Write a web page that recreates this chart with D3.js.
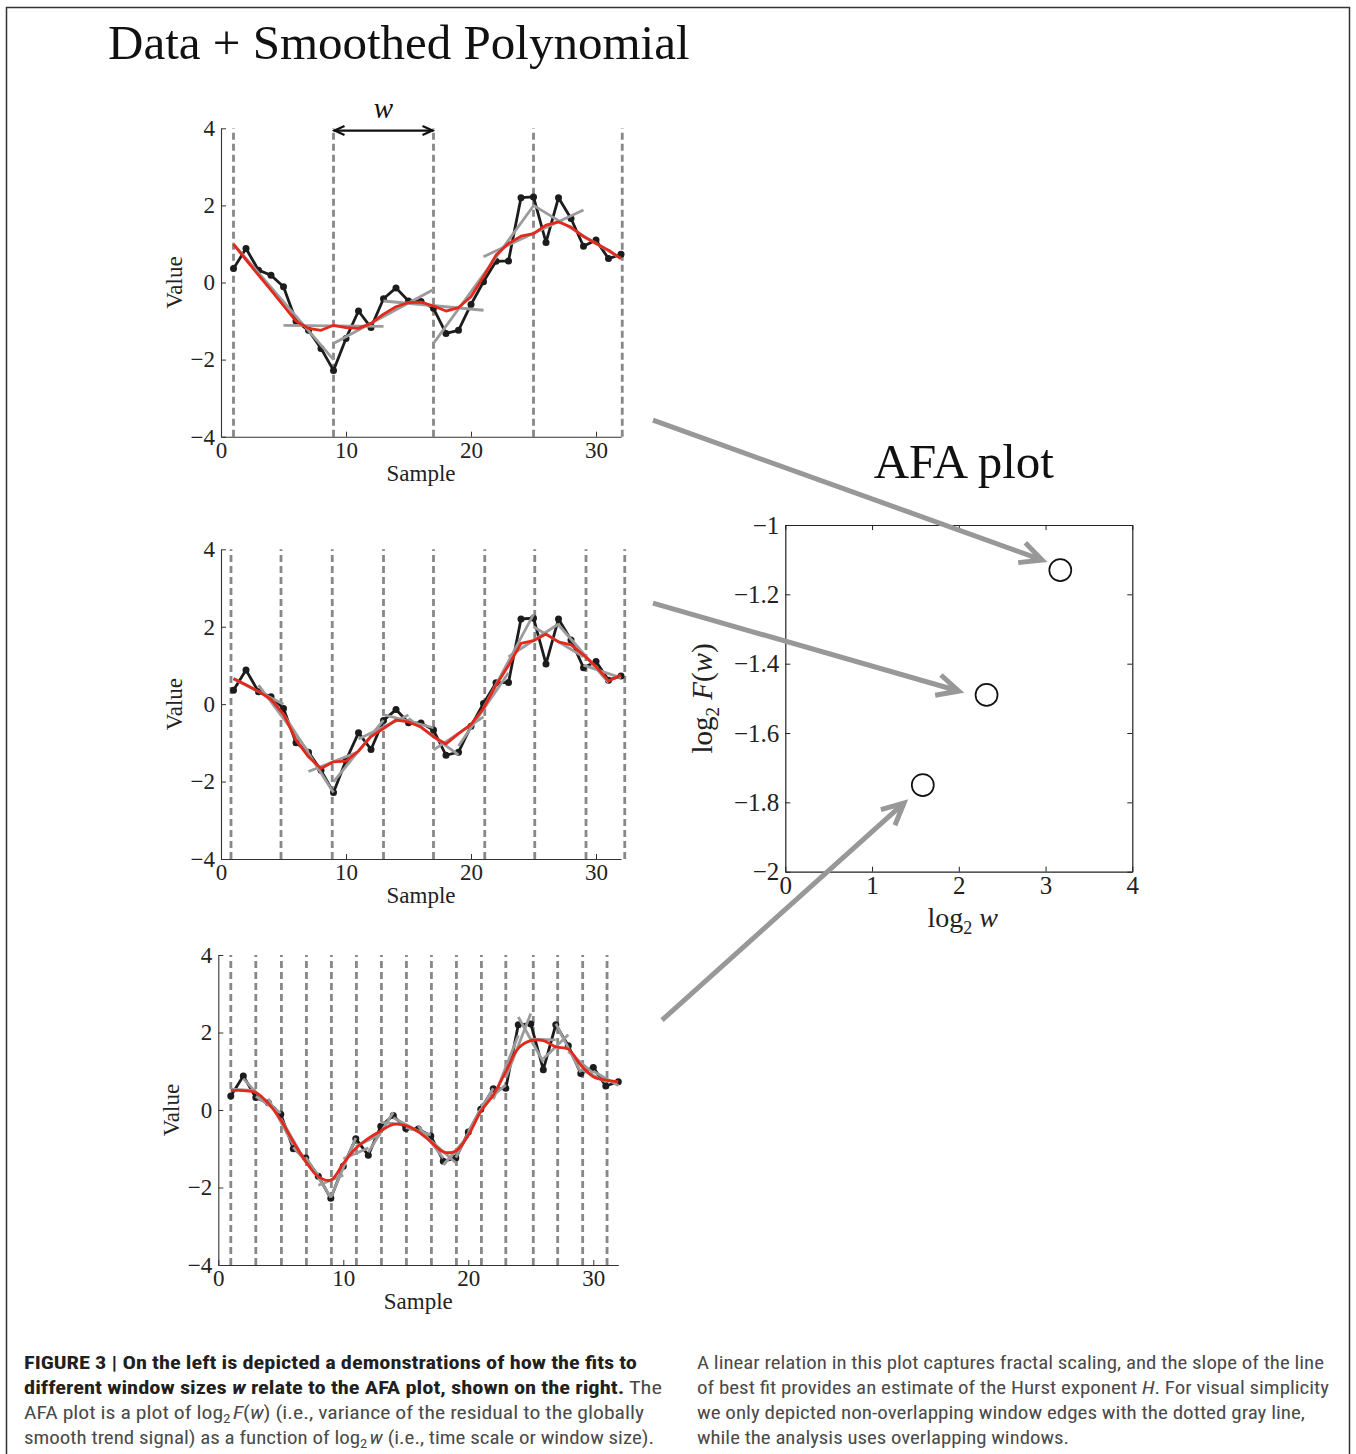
<!DOCTYPE html>
<html><head><meta charset="utf-8">
<script src="https://cdn.jsdelivr.net/npm/d3@7"></script>
<style>body{margin:0;background:#fff}svg{display:block}</style>
</head><body>
<svg id="fig" width="1356" height="1454"></svg>
<script>
// ---------- DATA ----------
const sampleIdx = [1,2,3,4,5,6,7,8,9,10,11,12,13,14,15,16,17,18,19,20,21,22,23,24,25,26,27,28,29,30,31,32];
const values = [0.36,0.88,0.32,0.19,-0.11,-1.00,-1.24,-1.71,-2.28,-1.45,-0.74,-1.17,-0.42,-0.14,-0.48,-0.49,-0.67,-1.32,-1.24,-0.57,0.02,0.55,0.56,2.20,2.22,1.04,2.20,1.66,0.94,1.10,0.62,0.73];

// smoothed (global trend) polynomials, red lines
const smoothW8 = [0.99,0.59,0.19,-0.20,-0.60,-1.00,-1.19,-1.24,-1.11,-1.17,-1.19,-1.06,-0.82,-0.63,-0.52,-0.51,-0.61,-0.74,-0.65,-0.37,0.15,0.71,1.01,1.20,1.27,1.49,1.57,1.44,1.19,1.01,0.84,0.62];
const smoothW4 = [0.66,0.50,0.33,0.12,-0.26,-0.93,-1.36,-1.66,-1.49,-1.47,-1.21,-0.84,-0.63,-0.41,-0.46,-0.59,-0.84,-1.03,-0.76,-0.52,-0.11,0.49,1.00,1.57,1.64,1.81,1.61,1.53,1.27,0.97,0.60,0.75];
const smoothW2 = [0.50,0.50,0.45,0.17,-0.26,-0.82,-1.33,-1.72,-1.81,-1.38,-0.99,-0.73,-0.54,-0.37,-0.40,-0.56,-0.82,-1.08,-1.06,-0.65,-0.04,0.39,0.99,1.59,1.79,1.79,1.63,1.57,1.16,0.86,0.77,0.73];

// local window fits (gray segments): [xStart, yStart, xEnd, yEnd]
const fitsW8 = [[1,1.00,9,-2.00],[5,-1.11,13,-1.14],[9,-1.58,17,-0.18],[13,-0.48,21,-0.72],[17,-1.58,25,1.99],[21,0.67,29,1.88],[25,2.00,32,0.62]];
const fitsW4 = [[1,0.65,5,0.00],[3,0.49,7,-1.23],[5,-0.26,9,-2.28],[7,-1.74,11,-1.23],[9,-2.01,13,-0.41],[11,-0.90,15,-0.28],[13,-0.27,17,-0.61],[15,-0.37,19,-1.31],[17,-1.18,21,-0.33],[19,-1.08,23,0.81],[21,-0.10,25,2.32],[23,1.22,27,2.07],[25,2.00,29,1.22],[27,2.05,31,0.56],[29,1.01,32,0.68]];
const fitsW2 = [[1,0.54,3,0.50],[2,0.81,4,0.12],[3,0.35,5,-0.08],[4,0.29,6,-0.90],[5,-0.22,7,-1.35],[6,-0.96,8,-1.67],[7,-1.22,9,-2.26],[8,-1.94,10,-1.68],[9,-2.26,11,-0.72],[10,-1.26,12,-0.98],[11,-0.94,13,-0.62],[12,-1.09,14,-0.06],[13,-0.32,15,-0.38],[14,-0.20,16,-0.55],[15,-0.45,17,-0.64],[16,-0.41,18,-1.24],[17,-0.79,19,-1.36],[18,-1.42,20,-0.67],[19,-1.23,21,0.03],[20,-0.56,22,0.56],[21,0.11,23,0.65],[22,0.28,24,1.93],[23,0.83,25,2.49],[24,2.40,26,1.24],[25,1.83,27,1.81],[26,1.32,28,1.94],[27,2.23,29,0.97],[28,1.51,30,0.95],[29,1.05,31,0.73],[30,1.00,32,0.63]];

// non-overlapping window edges (dashed)
const edgesW8 = [1,9,17,25,32.1];
const edgesW4 = [0.8,4.8,8.9,13,17,21.1,25.1,29.2,32.3];
const edgesW2 = [1,3,5.05,7.05,9.05,11.05,13.05,15.05,17.05,19.05,21.05,23,25.2,27.15,29.15,31.1];

const xDomain = [0,32];
const yDomain = [-4,4];
const xTicks = [0,10,20,30];
const yTicks = [-4,-2,0,2,4];

// AFA plot
const afaLogW = [1.585,2.32,3.17];
const afaLogF = [-1.75,-1.49,-1.13];
const afaXDomain = [0,4];
const afaYDomain = [-2,-1];
const afaXTicks = [0,1,2,3,4];
const afaYTicks = [-2,-1.8,-1.6,-1.4,-1.2,-1];

// arrows: start in left-panel data coords, tip in AFA data coords
const arrowPanel = [0,1,2];
const arrowStart = [[34.56,-3.57],[34.56,2.61],[35.5,2.32]];
const arrowTip = [[2.96,-1.101],[2.0,-1.479],[1.368,-1.802]];

// ---------- DRAW ----------
const svg = d3.select('#fig');
const W = 1356, H = 1454;
const SERIF = "'Liberation Serif','Times New Roman',serif";
const SANS = "'Liberation Sans Narrow','Roboto Condensed','Roboto','Liberation Sans',sans-serif";

svg.append('path').attr('d', `M6.5,${H}V7.5H1349.5V${H}`)
  .attr('fill','none').attr('stroke','#333').attr('stroke-width',1.5);

svg.append('text').attr('x',108).attr('y',59).attr('font-family',SERIF).attr('font-size',49)
  .attr('fill','#111').text('Data + Smoothed Polynomial');

const panels = [
  {left:221, right:621, top:128.3, bottom:436.7, smooth:smoothW8, fits:fitsW8, edges:edgesW8, curve:d3.curveLinear},
  {left:221, right:621, top:549.3, bottom:859,   smooth:smoothW4, fits:fitsW4, edges:edgesW4, curve:d3.curveLinear},
  {left:218.3, right:618.3, top:955, bottom:1265, smooth:smoothW2, fits:fitsW2, edges:edgesW2, curve:d3.curveCatmullRom.alpha(0.5)}
];

const fmt = d3.format('d');

panels.forEach((p,i) => {
  const x = d3.scaleLinear().domain(xDomain).range([p.left,p.right]);
  const y = d3.scaleLinear().domain(yDomain).range([p.bottom,p.top]);
  p.x = x; p.y = y;
  const g = svg.append('g');

  // dashed window edges
  g.selectAll('line.edge').data(p.edges).join('line').attr('class','edge')
    .attr('x1',d=>x(d)).attr('x2',d=>x(d))
    .attr('y1',y(yDomain[0])).attr('y2',y(yDomain[1]))
    .attr('stroke','#888').attr('stroke-width',2.8).attr('stroke-dasharray','7,4');

  // axes
  const ya = g.append('g').attr('transform',`translate(${p.left},0)`)
    .call(d3.axisLeft(y).tickValues(yTicks).tickSizeInner(-5).tickSizeOuter(0).tickPadding(6).tickFormat(fmt));
  const xa = g.append('g').attr('transform',`translate(0,${p.bottom})`)
    .call(d3.axisBottom(x).tickValues(xTicks).tickSizeInner(-5).tickSizeOuter(0).tickPadding(5).tickFormat(fmt));
  [ya,xa].forEach(a => {
    a.attr('font-family',SERIF).attr('font-size',23);
    a.select('.domain').attr('stroke','#333').attr('stroke-width',1.1);
    a.selectAll('.tick line').attr('stroke','#333').attr('stroke-width',1);
    a.selectAll('.tick text').attr('fill','#222');
  });

  g.append('text').attr('x',(p.left+p.right)/2).attr('y',p.bottom+44)
    .attr('text-anchor','middle').attr('font-family',SERIF).attr('font-size',23).attr('fill','#222').text('Sample');
  g.append('text').attr('transform',`translate(${p.left-39},${(p.top+p.bottom)/2}) rotate(-90)`)
    .attr('text-anchor','middle').attr('font-family',SERIF).attr('font-size',23).attr('fill','#222').text('Value');

  // data line
  const dline = d3.line().x((d,j)=>x(sampleIdx[j])).y(d=>y(d));
  g.append('path').datum(values).attr('d',dline).attr('fill','none')
    .attr('stroke','#1c1c1c').attr('stroke-width',2.8).attr('stroke-linejoin','round');
  g.selectAll('circle.pt').data(values).join('circle').attr('class','pt')
    .attr('cx',(d,j)=>x(sampleIdx[j])).attr('cy',d=>y(d)).attr('r',3.5).attr('fill','#1c1c1c');

  // local fits
  g.selectAll('line.fit').data(p.fits).join('line').attr('class','fit')
    .attr('x1',d=>x(d[0])).attr('y1',d=>y(d[1])).attr('x2',d=>x(d[2])).attr('y2',d=>y(d[3]))
    .attr('stroke','#9b9b9b').attr('stroke-width',2.8);

  // smooth trend
  const sline = d3.line().x((d,j)=>x(sampleIdx[j])).y(d=>y(d)).curve(p.curve);
  g.append('path').datum(p.smooth).attr('d',sline).attr('fill','none')
    .attr('stroke','#e3281c').attr('stroke-width',2.8).attr('stroke-linejoin','round');

  if (i === 0) {
    const ay = y(3.94), xa1 = x(edgesW8[1]), xa2 = x(edgesW8[2]);
    g.append('line').attr('x1',xa1).attr('x2',xa2).attr('y1',ay).attr('y2',ay)
      .attr('stroke','#111').attr('stroke-width',2.2);
    g.append('path').attr('d',`M${xa1+11},${ay-4.5}L${xa1+1},${ay}L${xa1+11},${ay+4.5}M${xa2-11},${ay-4.5}L${xa2-1},${ay}L${xa2-11},${ay+4.5}`)
      .attr('fill','none').attr('stroke','#111').attr('stroke-width',2.2);
    g.append('text').attr('x',(xa1+xa2)/2).attr('y',ay-13).attr('text-anchor','middle')
      .attr('font-family',SERIF).attr('font-style','italic').attr('font-size',29).attr('fill','#111').text('w');
  }
});

// ---------- AFA plot ----------
const A = {left:785.3, right:1132.3, top:525, bottom:871.7};
const xA = d3.scaleLinear().domain(afaXDomain).range([A.left,A.right]);
const yA = d3.scaleLinear().domain(afaYDomain).range([A.bottom,A.top]);
const ga = svg.append('g');
svg.append('text').attr('x',(A.left+A.right)/2 + 5).attr('y',478).attr('text-anchor','middle')
  .attr('font-family',SERIF).attr('font-size',49).attr('fill','#111').text('AFA plot');

const afaFmt = d => Number.isInteger(d) ? d3.format('d')(d) : d3.format('.1f')(d);
const axs = [
  ga.append('g').attr('transform',`translate(0,${A.bottom})`).call(d3.axisBottom(xA).tickValues(afaXTicks).tickSizeInner(-5).tickSizeOuter(0).tickPadding(5).tickFormat(d3.format('d'))),
  ga.append('g').attr('transform',`translate(0,${A.top})`).call(d3.axisTop(xA).tickValues(afaXTicks).tickSizeInner(-5).tickSizeOuter(0).tickFormat('')),
  ga.append('g').attr('transform',`translate(${A.left},0)`).call(d3.axisLeft(yA).tickValues(afaYTicks).tickSizeInner(-5).tickSizeOuter(0).tickPadding(6).tickFormat(afaFmt)),
  ga.append('g').attr('transform',`translate(${A.right},0)`).call(d3.axisRight(yA).tickValues(afaYTicks).tickSizeInner(-5).tickSizeOuter(0).tickFormat(''))
];
axs.forEach(a => {
  a.attr('font-family',SERIF).attr('font-size',25);
  a.select('.domain').attr('stroke','#222').attr('stroke-width',1.2);
  a.selectAll('.tick line').attr('stroke','#222').attr('stroke-width',1);
  a.selectAll('.tick text').attr('fill','#222');
});

ga.selectAll('circle.afa').data(afaLogW).join('circle').attr('class','afa')
  .attr('cx',d=>xA(d)).attr('cy',(d,j)=>yA(afaLogF[j])).attr('r',11)
  .attr('fill','none').attr('stroke','#111').attr('stroke-width',1.7);

// axis labels
const xl = ga.append('text').attr('x',(A.left+A.right)/2 + 4).attr('y',927).attr('text-anchor','middle')
  .attr('font-family',SERIF).attr('font-size',28).attr('fill','#222');
xl.append('tspan').text('log');
xl.append('tspan').attr('font-size',18).attr('dy',7).text('2');
xl.append('tspan').attr('dy',-7).text('\u00a0');
xl.append('tspan').attr('font-style','italic').text('w');

const yl = ga.append('text').attr('transform',`translate(${A.left-73},${(A.top+A.bottom)/2}) rotate(-90)`)
  .attr('text-anchor','middle').attr('font-family',SERIF).attr('font-size',29).attr('fill','#222');
yl.append('tspan').text('log');
yl.append('tspan').attr('font-size',19).attr('dy',7).text('2');
yl.append('tspan').attr('dy',-7).text('\u00a0');
yl.append('tspan').attr('font-style','italic').text('F');
yl.append('tspan').text('(');
yl.append('tspan').attr('font-style','italic').text('w');
yl.append('tspan').text(')');

// ---------- arrows ----------
arrowPanel.forEach((pi,k) => {
  const p = panels[pi];
  const x0 = p.x(arrowStart[k][0]), y0 = p.y(arrowStart[k][1]);
  const x1 = xA(arrowTip[k][0]), y1 = yA(arrowTip[k][1]);
  const th = Math.atan2(y1-y0, x1-x0), L = 24, ph = 26*Math.PI/180;
  const hx1 = x1 - L*Math.cos(th-ph), hy1 = y1 - L*Math.sin(th-ph);
  const hx2 = x1 - L*Math.cos(th+ph), hy2 = y1 - L*Math.sin(th+ph);
  svg.append('path').attr('d',`M${x0},${y0}L${x1-2*Math.cos(th)},${y1-2*Math.sin(th)}M${hx1},${hy1}L${x1},${y1}L${hx2},${hy2}`)
    .attr('fill','none').attr('stroke','#989898').attr('stroke-width',5).attr('stroke-linejoin','miter');
});

// ---------- caption ----------
const capLeft = [
  {len:613, segs:[{t:'FIGURE 3 | On the left is depicted a demonstrations of how the fits to', b:1}]},
  {len:638, segs:[{t:'different window sizes ', b:1},{t:'w', b:1, i:1},{t:' relate to the AFA plot, shown on the right.', b:1},{t:' The'}]},
  {len:620, segs:[{t:'AFA plot is a plot of log'},{t:'2', sub:1},{t:'F', i:1, post:1},{t:'('},{t:'w', i:1},{t:') (i.e., variance of the residual to the globally'}]},
  {len:630, segs:[{t:'smooth trend signal) as a function of log'},{t:'2', sub:1},{t:'w', i:1, post:1},{t:' (i.e., time scale or window size).'}]}
];
const capRight = [
  {len:627, segs:[{t:'A linear relation in this plot captures fractal scaling, and the slope of the line'}]},
  {len:632, segs:[{t:'of best fit provides an estimate of the Hurst exponent '},{t:'H', i:1},{t:'. For visual simplicity'}]},
  {len:608, segs:[{t:'we only depicted non-overlapping window edges with the dotted gray line,'}]},
  {len:372, segs:[{t:'while the analysis uses overlapping windows.'}]}
];
const capBase = [1369,1394,1419,1444];
function drawCaption(lines, x0) {
  lines.forEach((ln,k) => {
    const t = svg.append('text').attr('x',x0).attr('y',capBase[k])
      .attr('font-family',SANS).attr('font-size',18).attr('font-stretch','condensed')
      .attr('textLength',ln.len).attr('lengthAdjust','spacingAndGlyphs');
    ln.segs.forEach(s => {
      const ts = t.append('tspan').text(s.t)
        .attr('fill', s.b ? '#231f20' : '#4a4a4a')
        .attr('font-weight', s.b ? 'bold' : 'normal');
      if (s.i) ts.attr('font-style','italic');
      if (s.sub) ts.attr('font-size',12.5).attr('dy',4);
      if (s.post) ts.attr('dy',-4).attr('dx',2);
    });
  });
}
drawCaption(capLeft, 24);
drawCaption(capRight, 697);
</script>
</body></html>
